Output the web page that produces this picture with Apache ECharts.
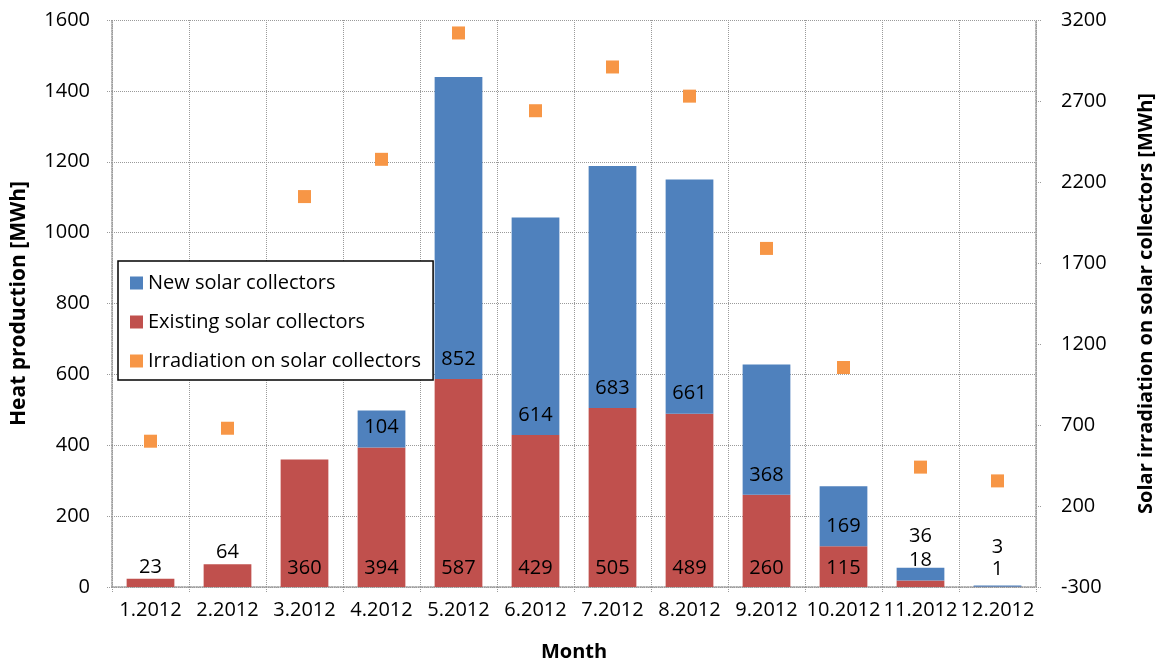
<!DOCTYPE html>
<html><head><meta charset="utf-8">
<script src="https://cdn.jsdelivr.net/npm/echarts@6/dist/echarts.min.js"></script>
<style>html,body{margin:0;padding:0;background:#fff}#c{width:1162px;height:664px}</style>
</head><body><div id="c"></div>
<script>
const months = ['1.2012','2.2012','3.2012','4.2012','5.2012','6.2012','7.2012','8.2012','9.2012','10.2012','11.2012','12.2012'];
const existingCollectors = [23, 64, 360, 394, 587, 429, 505, 489, 260, 115, 18, 1];
const newCollectors = [0, 0, 0, 104, 852, 614, 683, 661, 368, 169, 36, 3];
const irradiation = [600, 680, 2110, 2340, 3120, 2640, 2910, 2730, 1790, 1055, 440, 355];
const rightTicks = [-300, 200, 700, 1200, 1700, 2200, 2700, 3200];

const FONT = 'Open Sans';
const FS = 20;
const grid = '#9a9a9a';
const smallBars = [0, 1, 10, 11];
const plain = v => String(v);

const existingData = existingCollectors.map((v, i) => {
  if (smallBars.includes(i)) {
    return { value: v, label: { position: 'top', distance: i === 10 ? 10 : (i === 11 ? 7 : 2) } };
  }
  return v;
});
const newData = newCollectors.map((v, i) => {
  if (i === 10) return { value: v, label: { position: 'top', distance: 22 } };
  if (i === 11) return { value: v, label: { position: 'top', distance: 28 } };
  return v;
});

const chart = echarts.init(document.getElementById('c'), null, { renderer: 'canvas' });
chart.setOption({
  animation: false,
  backgroundColor: '#fff',
  textStyle: { fontFamily: FONT },
  grid: { left: 112, right: 126, top: 20, bottom: 77, containLabel: false, outerBoundsMode: 'none' },
  legend: {
    orient: 'vertical', left: 118, top: 261,
    data: ['New solar collectors', 'Existing solar collectors', 'Irradiation on solar collectors'],
    icon: 'rect',
    backgroundColor: '#fff', borderColor: '#000', borderWidth: 1.5,
    padding: [12, 12, 9, 12], itemGap: 19,
    itemWidth: 13, itemHeight: 13,
    textStyle: { fontSize: FS, color: '#000', fontFamily: FONT }
  },
  xAxis: {
    type: 'category', data: months,
    name: 'Month', nameLocation: 'middle', nameGap: 55,
    nameTextStyle: { fontSize: 20, fontWeight: 'bold', color: '#000', fontFamily: FONT },
    axisLine: { lineStyle: { color: grid, type: 'dotted', width: 1.5 } },
    axisTick: { show: true, length: 5, lineStyle: { color: grid, type: 'dotted' } },
    splitLine: { show: true, lineStyle: { color: grid, type: 'dotted', width: 1 } },
    axisLabel: { fontSize: FS, color: '#000', margin: 13, interval: 0, fontFamily: FONT }
  },
  yAxis: [{
    type: 'value', min: 0, max: 1600, interval: 200, position: 'left',
    name: 'Heat production [MWh]', nameLocation: 'middle', nameGap: 82, nameRotate: 90,
    nameTextStyle: { fontSize: 21, fontWeight: 'bold', color: '#000', fontFamily: FONT },
    axisLine: { show: true, lineStyle: { color: grid, type: 'dotted', width: 1.5 } },
    axisTick: { show: true, length: 5, lineStyle: { color: grid, type: 'dotted' } },
    splitLine: { show: true, lineStyle: { color: grid, type: 'dotted', width: 1 } },
    axisLabel: { fontSize: FS, color: '#000', margin: 22, fontFamily: FONT, formatter: plain }
  }, {
    type: 'value', min: -300, max: 3200, position: 'right',
    name: 'Solar irradiation on solar collectors [MWh]', nameLocation: 'middle', nameGap: 100, nameRotate: 90,
    nameTextStyle: { fontSize: 20, fontWeight: 'bold', color: '#000', fontFamily: FONT },
    axisLine: { show: true, lineStyle: { color: grid, type: 'dotted', width: 1.5 } },
    axisTick: { show: true, length: 5, customValues: rightTicks, lineStyle: { color: grid, type: 'dotted' } },
    splitLine: { show: false },
    axisLabel: { fontSize: FS, color: '#000', margin: 25, fontFamily: FONT, customValues: rightTicks, formatter: plain }
  }],
  series: [{
    name: 'Existing solar collectors', type: 'bar', stack: 'heat', yAxisIndex: 0,
    barWidth: '62%',
    itemStyle: { color: '#C0504D' },
    label: { show: true, position: 'insideBottom', distance: 9, fontSize: FS, color: '#000', fontFamily: FONT },
    data: existingData
  }, {
    name: 'New solar collectors', type: 'bar', stack: 'heat', yAxisIndex: 0,
    barWidth: '62%',
    itemStyle: { color: '#4F81BD' },
    label: { show: true, position: 'insideBottom', distance: 10, fontSize: FS, color: '#000', fontFamily: FONT,
      formatter: p => (p.value ? String(p.value) : '') },
    data: newData
  }, {
    name: 'Irradiation on solar collectors', type: 'scatter', yAxisIndex: 1,
    symbol: 'rect', symbolSize: 13,
    itemStyle: { color: '#F79646', opacity: 1 },
    data: irradiation
  }]
});
</script>
</body></html>
